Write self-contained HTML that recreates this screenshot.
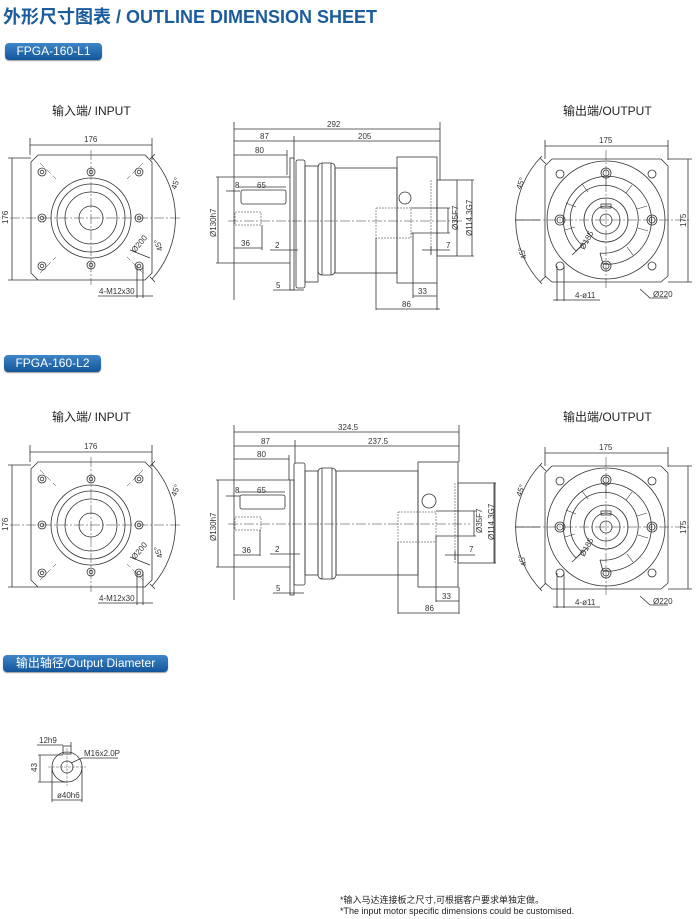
<!DOCTYPE html>
<html><head><meta charset="utf-8"><style>
html,body{margin:0;padding:0;background:#fff;}
body{width:700px;height:919px;position:relative;overflow:hidden;font-family:"Liberation Sans","Noto Sans CJK SC",sans-serif;}
.title{position:absolute;left:3px;top:3px;font-size:18px;font-weight:bold;color:#1b5c9c;letter-spacing:0px;white-space:nowrap;}
.badge{position:absolute;height:17px;border-radius:4px;background:linear-gradient(#3d86c8,#14559a);color:#fff;font-size:12px;line-height:17px;text-align:center;box-shadow:0 1px 1px #999;white-space:nowrap;}
.lbl{position:absolute;font-size:12px;color:#222;white-space:nowrap;}
.note{position:absolute;left:340px;font-size:9px;color:#222;white-space:nowrap;}
svg{position:absolute;left:0;top:0;}
svg text{font-family:"Liberation Sans",sans-serif;font-size:8px;fill:#333;}
</style></head><body>
<div class="title">外形尺寸图表 / OUTLINE DIMENSION SHEET</div>
<div class="badge" style="left:5px;top:43px;width:97px;">FPGA-160-L1</div>
<div class="badge" style="left:4px;top:355px;width:97px;">FPGA-160-L2</div>
<div class="badge" style="left:3px;top:655px;width:165px;">输出轴径/Output Diameter</div>
<div class="lbl" style="left:52px;top:102px;">输入端/ INPUT</div>
<div class="lbl" style="left:563px;top:102px;">输出端/OUTPUT</div>
<div class="lbl" style="left:52px;top:408px;">输入端/ INPUT</div>
<div class="lbl" style="left:563px;top:408px;">输出端/OUTPUT</div>
<div class="note" style="top:893px;">*输入马达连接板之尺寸,可根据客户要求单独定做。</div>
<div class="note" style="top:906px;">*The input motor specific dimensions could be customised.</div>

<svg width="700" height="919" viewBox="0 0 700 919">
<defs>
<g id="inp" fill="none" stroke="#333" stroke-width="0.8">
  <path d="M38,155 H145 L152,162 V273 L145,280 H38 L31,273 V162 Z"/>
  <g stroke-dasharray="6,3" stroke-width="0.5">
    <line x1="40" y1="163" x2="56" y2="179"/><line x1="143" y1="163" x2="127" y2="179"/>
    <line x1="40" y1="273" x2="56" y2="257"/><line x1="143" y1="273" x2="127" y2="257"/>
  </g>
  <g stroke-dasharray="10,2,2,2" stroke-width="0.5">
    <line x1="10" y1="218" x2="180" y2="218"/><line x1="91" y1="150" x2="91" y2="285"/>
  </g>
  <circle cx="91" cy="218" r="40"/><circle cx="91" cy="218" r="34"/>
  <circle cx="91" cy="218" r="26"/><circle cx="91" cy="218" r="12"/>
  <g>
    <circle cx="42" cy="172" r="4"/><circle cx="42" cy="172" r="1.8"/>
    <circle cx="91" cy="172" r="4"/><circle cx="91" cy="172" r="1.8"/>
    <circle cx="139" cy="172" r="4"/><circle cx="139" cy="172" r="1.8"/>
    <circle cx="42" cy="218" r="4"/><circle cx="42" cy="218" r="1.8"/>
    <circle cx="139" cy="218" r="4"/><circle cx="139" cy="218" r="1.8"/>
    <circle cx="42" cy="266" r="4"/><circle cx="42" cy="266" r="1.8"/>
    <circle cx="91" cy="265" r="4"/><circle cx="91" cy="265" r="1.8"/>
    <circle cx="139" cy="266" r="4"/><circle cx="139" cy="266" r="1.8"/>
  </g>
  <line x1="30" y1="138" x2="30" y2="155"/><line x1="152" y1="138" x2="152" y2="160"/>
  <line x1="30" y1="145" x2="152" y2="145"/>
  <line x1="8" y1="158" x2="31" y2="158"/><line x1="8" y1="280" x2="38" y2="280"/>
  <line x1="12" y1="158" x2="12" y2="280"/>
  <path d="M152,157 A91,91 0 0 1 152,279"/>
  <line x1="150" y1="159" x2="155" y2="154"/><line x1="150" y1="277" x2="155" y2="282"/>
  <line x1="130" y1="250" x2="150" y2="258"/>
  <line x1="137" y1="265" x2="137" y2="298"/><line x1="143" y1="265" x2="143" y2="298"/>
  <line x1="98" y1="296" x2="153" y2="296"/>
</g>
<g id="out" fill="none" stroke="#333" stroke-width="0.8">
  <path d="M552,159 H661 L668,166 V276 L661,282 H552 L545,276 V166 Z"/>
  <g stroke-dasharray="10,2,2,2" stroke-width="0.5">
    <line x1="515" y1="220" x2="690" y2="220"/><line x1="606" y1="150" x2="606" y2="290"/>
  </g>
  <circle cx="606" cy="220" r="59"/>
  <path d="M582,245 A34,34 0 1 1 600,253" /><path d="M576,251 A44,44 0 1 1 603,264"/>
  <path d="M582,245 L576,251 M600,253 L603,264"/>
  <g stroke-width="0.6">
    <line x1="606" y1="186" x2="606" y2="176"/><line x1="626" y1="193" x2="632" y2="185"/>
    <line x1="637" y1="209" x2="647" y2="206"/><line x1="638" y1="228" x2="648" y2="231"/>
    <line x1="627" y1="247" x2="633" y2="255"/><line x1="588" y1="192" x2="582" y2="184"/>
    <line x1="576" y1="207" x2="566" y2="203"/><line x1="575" y1="227" x2="565" y2="230"/>
  </g>
  <circle cx="606" cy="220" r="22"/><circle cx="606" cy="220" r="14"/>
  <circle cx="606" cy="220" r="6"/><rect x="601" y="204" width="10" height="4"/>
  <circle cx="560" cy="174" r="4"/><circle cx="652" cy="174" r="4"/>
  <circle cx="606" cy="173" r="5"/><circle cx="606" cy="173" r="3"/>
  <circle cx="560" cy="220" r="5"/><circle cx="560" cy="220" r="3"/>
  <circle cx="652" cy="220" r="5"/><circle cx="652" cy="220" r="3"/>
  <circle cx="606" cy="266" r="5"/><circle cx="606" cy="266" r="3"/>
  <circle cx="560" cy="266" r="4"/><circle cx="652" cy="266" r="4"/>
  <line x1="545" y1="140" x2="545" y2="159"/><line x1="668" y1="140" x2="668" y2="160"/>
  <line x1="545" y1="146" x2="668" y2="146"/>
  <line x1="668" y1="159" x2="692" y2="159"/><line x1="668" y1="282" x2="692" y2="282"/>
  <line x1="688" y1="159" x2="688" y2="282"/>
  <path d="M542,156 A91,91 0 0 0 542,284"/>
  <line x1="540" y1="158" x2="546" y2="164"/><line x1="540" y1="282" x2="546" y2="276"/>
  <line x1="515" y1="220" x2="540" y2="220"/>
  <line x1="572" y1="255" x2="588" y2="240"/>
  <line x1="557" y1="266" x2="557" y2="301"/><line x1="564" y1="266" x2="564" y2="301"/>
  <line x1="553" y1="300" x2="600" y2="300"/>
  <path d="M640,289 L650,298 H668"/>
</g>
<g id="inpt">
  <text x="84" y="142">176</text>
  <text transform="translate(8,224) rotate(-90)">176</text>
  <text transform="translate(176,190) rotate(-70)">45°</text>
  <text transform="translate(163,250) rotate(-110)">45°</text>
  <text transform="translate(135,253) rotate(-50)">Ø200</text>
  <text x="99" y="294">4-M12x30</text>
</g>
<g id="outt">
  <text x="599" y="143">175</text>
  <text transform="translate(686,227) rotate(-90)">175</text>
  <text transform="translate(521,190) rotate(-70)">45°</text>
  <text transform="translate(527,258) rotate(-110)">45°</text>
  <text transform="translate(584,250) rotate(-60)">Ø185</text>
  <text x="575" y="298">4-ø11</text>
  <text x="653" y="297">Ø220</text>
</g>
</defs>

<use href="#inp"/><use href="#inpt"/><use href="#out"/><use href="#outt"/>
<use href="#inp" transform="translate(0,307)"/><use href="#inpt" transform="translate(0,307)"/>
<use href="#out" transform="translate(0,307)"/><use href="#outt" transform="translate(0,307)"/>

<g fill="none" stroke="#333" stroke-width="0.8">
  <line x1="234" y1="122" x2="234" y2="300"/><line x1="440" y1="122" x2="440" y2="180"/>
  <line x1="234" y1="129" x2="440" y2="129"/>
  <line x1="294" y1="136" x2="294" y2="160"/>
  <line x1="234" y1="141" x2="440" y2="141"/>
  <line x1="234" y1="155" x2="287" y2="155"/><line x1="287" y1="150" x2="287" y2="175"/>
  <rect x="290" y="158" width="4" height="132"/>
  <rect x="296" y="160" width="9" height="128" rx="2"/>
  <rect x="305" y="166" width="13" height="116"/>
  <rect x="318" y="163" width="17" height="112" rx="4"/><line x1="322" y1="163" x2="322" y2="275"/><line x1="331" y1="163" x2="331" y2="275"/>
  <rect x="335" y="168" width="62" height="105"/>
  <rect x="397" y="157" width="40" height="126"/>
  <rect x="437" y="180" width="20" height="76"/>
  <circle cx="405" cy="198" r="6"/>
  <rect x="241" y="190" width="45" height="14" rx="2"/>
  <g stroke-dasharray="2,1" stroke-width="0.5"><rect x="235" y="212" width="26" height="13"/><rect x="376" y="208" width="35" height="30"/><line x1="431" y1="180" x2="431" y2="255"/></g>
  <g stroke-dasharray="10,2,2,2" stroke-width="0.5"><line x1="228" y1="221" x2="462" y2="221"/></g>
  <line x1="216" y1="177" x2="290" y2="177"/><line x1="216" y1="263" x2="290" y2="263"/><line x1="218" y1="177" x2="218" y2="263"/>
  <line x1="226" y1="191" x2="240" y2="191"/><line x1="238" y1="187" x2="286" y2="187"/>
  <line x1="234" y1="248" x2="262" y2="248"/><line x1="262" y1="225" x2="262" y2="250"/>
  <line x1="270" y1="250" x2="298" y2="250"/>
  <line x1="273" y1="290" x2="304" y2="290"/>
  <line x1="411" y1="208" x2="450" y2="208"/><line x1="411" y1="233" x2="450" y2="233"/><line x1="448" y1="208" x2="448" y2="233"/>
  <line x1="422" y1="250" x2="450" y2="250"/><line x1="431" y1="246" x2="431" y2="255"/>
  <line x1="457" y1="180" x2="474" y2="180"/><line x1="457" y1="256" x2="474" y2="256"/><line x1="472" y1="180" x2="472" y2="256"/>
  <line x1="376" y1="238" x2="376" y2="310"/><line x1="437" y1="283" x2="437" y2="310"/><line x1="413" y1="233" x2="413" y2="298"/>
  <line x1="413" y1="296" x2="437" y2="296"/><line x1="376" y1="309" x2="440" y2="309"/>
</g>
<text x="327" y="127">292</text><text x="260" y="139">87</text><text x="358" y="139">205</text>
<text x="255" y="153">80</text><text x="235" y="188">8</text><text x="257" y="188">65</text>
<text x="241" y="246">36</text><text x="275" y="248">2</text><text x="276" y="288">5</text>
<text x="446" y="248">7</text><text x="418" y="294">33</text><text x="402" y="307">86</text>
<text transform="translate(216,237) rotate(-90)">Ø130h7</text>
<text transform="translate(458,230) rotate(-90)">Ø35F7</text>
<text transform="translate(472,236) rotate(-90)">Ø114.3G7</text>

<g fill="none" stroke="#333" stroke-width="0.8">
  <line x1="234" y1="425" x2="234" y2="600"/><line x1="459" y1="425" x2="459" y2="462"/>
  <line x1="234" y1="432" x2="459" y2="432"/>
  <line x1="295" y1="440" x2="295" y2="463"/>
  <line x1="234" y1="446" x2="459" y2="446"/>
  <line x1="234" y1="459" x2="289" y2="459"/><line x1="289" y1="455" x2="289" y2="480"/>
  <rect x="290" y="480" width="4" height="115"/>
  <rect x="294" y="463" width="11" height="122" rx="2"/>
  <rect x="305" y="471" width="13" height="104"/>
  <rect x="318" y="468" width="18" height="111" rx="4"/><line x1="322" y1="468" x2="322" y2="579"/><line x1="332" y1="468" x2="332" y2="579"/>
  <rect x="336" y="471" width="82" height="104"/>
  <rect x="418" y="462" width="40" height="125"/>
  <rect x="458" y="483" width="36" height="80"/>
  <circle cx="429" cy="501" r="7"/>
  <rect x="240" y="495" width="45" height="14" rx="2"/>
  <g stroke-dasharray="2,1" stroke-width="0.5"><rect x="235" y="517" width="26" height="13"/><rect x="398" y="512" width="38" height="30"/><line x1="455" y1="483" x2="455" y2="563"/></g>
  <g stroke-dasharray="10,2,2,2" stroke-width="0.5"><line x1="228" y1="524" x2="470" y2="524"/></g>
  <line x1="216" y1="480" x2="290" y2="480"/><line x1="216" y1="567" x2="290" y2="567"/><line x1="218" y1="480" x2="218" y2="567"/>
  <line x1="226" y1="496" x2="240" y2="496"/><line x1="238" y1="492" x2="285" y2="492"/>
  <line x1="234" y1="555" x2="260" y2="555"/><line x1="260" y1="530" x2="260" y2="556"/>
  <line x1="270" y1="554" x2="300" y2="554"/>
  <line x1="273" y1="593" x2="304" y2="593"/>
  <line x1="436" y1="511" x2="476" y2="511"/><line x1="436" y1="536" x2="476" y2="536"/><line x1="474" y1="511" x2="474" y2="536"/>
  <line x1="445" y1="555" x2="475" y2="555"/><line x1="455" y1="551" x2="455" y2="560"/>
  <line x1="494" y1="483" x2="496" y2="483"/><line x1="494" y1="563" x2="496" y2="563"/><line x1="495" y1="483" x2="495" y2="563"/>
  <line x1="398" y1="542" x2="398" y2="614"/><line x1="459" y1="587" x2="459" y2="614"/><line x1="436" y1="536" x2="436" y2="602"/>
  <line x1="436" y1="601" x2="459" y2="601"/><line x1="398" y1="613" x2="459" y2="613"/>
</g>
<text x="338" y="430">324.5</text><text x="261" y="444">87</text><text x="368" y="444">237.5</text>
<text x="257" y="457">80</text><text x="235" y="493">8</text><text x="257" y="493">65</text>
<text x="242" y="553">36</text><text x="275" y="552">2</text><text x="276" y="591">5</text>
<text x="469" y="552">7</text><text x="442" y="599">33</text><text x="425" y="611">86</text>
<text transform="translate(216,541) rotate(-90)">Ø130h7</text>
<text transform="translate(482,533) rotate(-90)">Ø35F7</text>
<text transform="translate(494,540) rotate(-90)">Ø114.3G7</text>

<g fill="none" stroke="#333" stroke-width="0.8">
  <circle cx="67" cy="767" r="15"/><circle cx="67" cy="767" r="6"/>
  <rect x="63" y="746" width="8" height="8"/>
  <line x1="63" y1="745" x2="37" y2="745"/><line x1="71" y1="742" x2="71" y2="746"/>
  <line x1="38" y1="755" x2="63" y2="755"/><line x1="38" y1="782" x2="67" y2="782"/><line x1="40" y1="755" x2="40" y2="782"/>
  <line x1="52" y1="767" x2="52" y2="802"/><line x1="82" y1="767" x2="82" y2="802"/><line x1="52" y1="800" x2="82" y2="800"/>
  <path d="M71,763 L82,758 H118"/>
  <g stroke-dasharray="3,1" stroke-width="0.4"><line x1="48" y1="767" x2="86" y2="767"/><line x1="67" y1="748" x2="67" y2="786"/></g>
</g>
<text x="39" y="743">12h9</text>
<text x="84" y="756">M16x2.0P</text>
<text transform="translate(37,772) rotate(-90)">43</text>
<text x="57" y="798">ø40h6</text>
</svg>
</body></html>
